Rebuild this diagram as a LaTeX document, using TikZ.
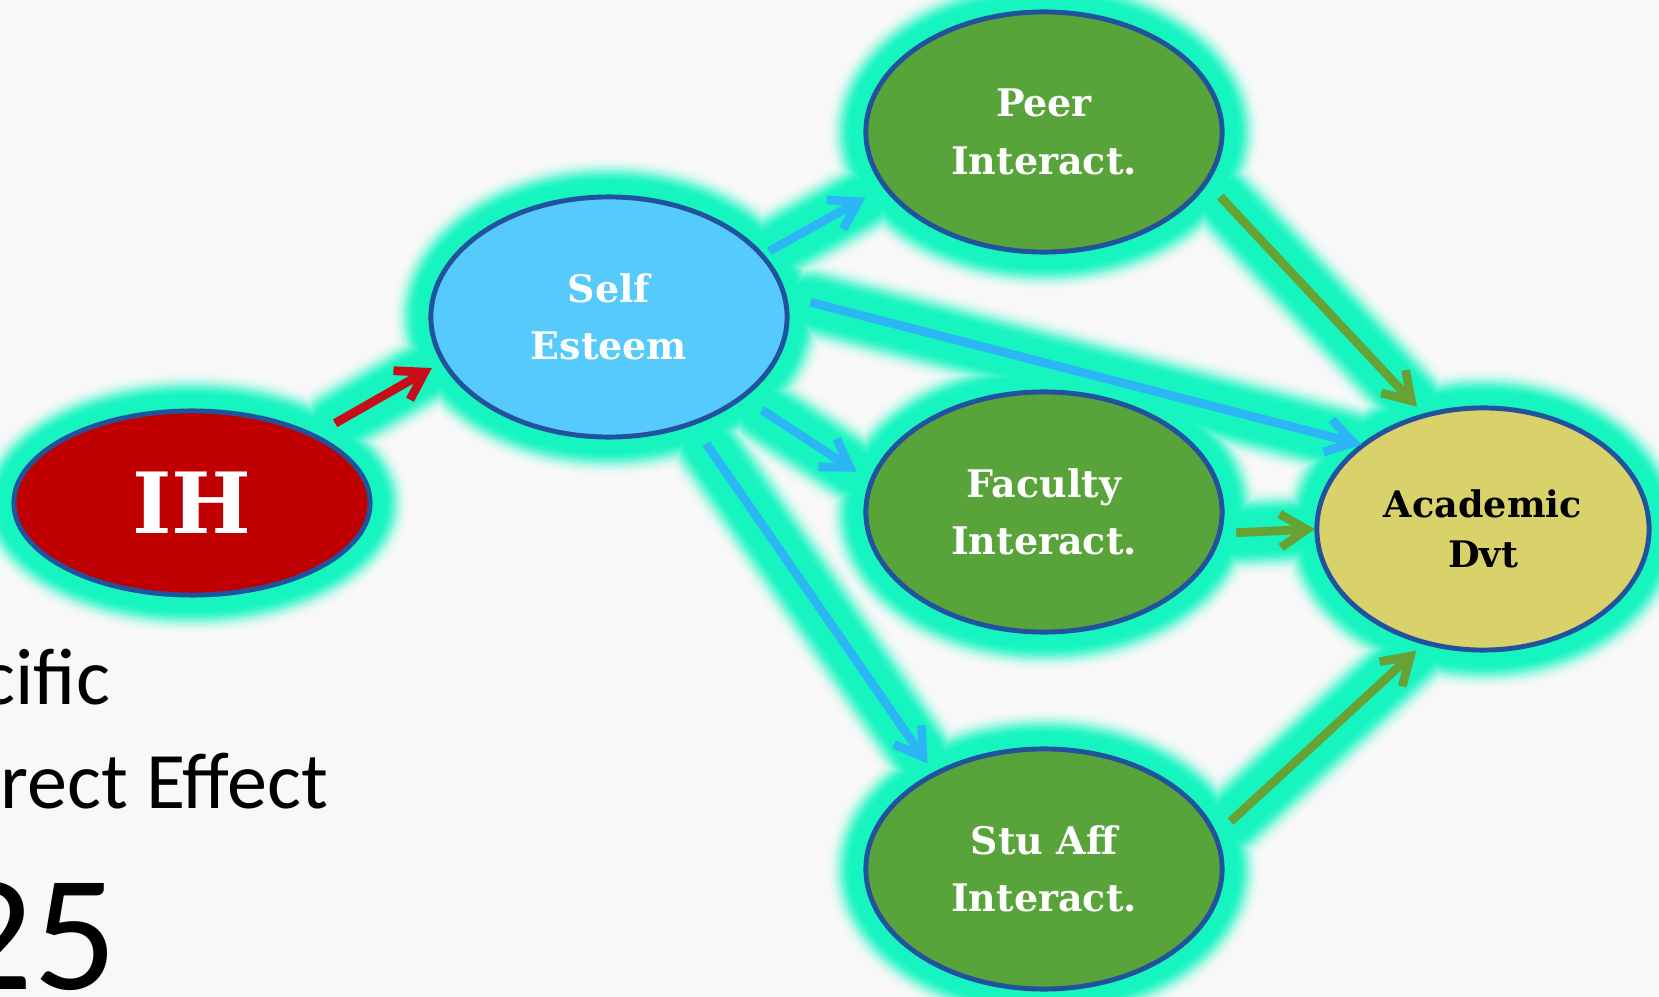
\documentclass[tikz,border=0pt]{standalone}
\usepackage{fontspec}
\newfontfamily\labelfont{Carlito}
\newfontfamily\bubblefont{DejaVu Serif}
\usetikzlibrary{arrows.meta,shapes.geometric}

\pgfdeclarelayer{glow}
\pgfsetlayers{glow,main}

\definecolor{bg}{RGB}{248,248,248}
\definecolor{glowc}{RGB}{22,245,192}
\definecolor{rim}{RGB}{34,82,158}
\definecolor{ihred}{RGB}{192,0,0}
\definecolor{selfblue}{RGB}{86,202,250}
\definecolor{leafgreen}{RGB}{88,164,58}
\definecolor{outkhaki}{RGB}{217,210,106}
\definecolor{linkred}{RGB}{200,12,24}
\definecolor{linkblue}{RGB}{44,182,246}
\definecolor{linkgreen}{RGB}{102,162,52}

\tikzset{
  bubble/.style={ellipse, draw=rim, line width=1.4pt, inner sep=0pt, outer sep=0pt,
    align=center, text=white, minimum width=3.56cm, minimum height=2.4cm,
    font=\bubblefont\bfseries\fontsize{10.8}{16.4}\selectfont},
  link/.style={line width=2.5pt, -{Straight Barb[length=7.5pt,width=9.5pt]}},
  redlink/.style={link, draw=linkred},
  bluelink/.style={link, draw=linkblue},
  greenlink/.style={link, draw=linkgreen},
  sidetext/.style={anchor=base east, inner sep=0pt, text=black}
}

% ellipse halos around every node (#1 = extra radius, #2 = colour)
\newcommand\haloshapes[2]{%
  \fill[#2] (ih.center)   ellipse [x radius=178+#1, y radius=92+#1];
  \fill[#2] (self.center) ellipse [x radius=178+#1, y radius=120+#1];
  \fill[#2] (peer.center) ellipse [x radius=178+#1, y radius=120+#1];
  \fill[#2] (fac.center)  ellipse [x radius=178+#1, y radius=120+#1];
  \fill[#2] (stu.center)  ellipse [x radius=178+#1, y radius=120+#1];
  \fill[#2] (acad.center) ellipse [x radius=166+#1, y radius=121+#1];
}

% all connectors; #1 is appended to each style
\newcommand\linkset[1]{%
  \draw[redlink,#1,shorten <=2.5mm,shorten >=1.35mm] (ih.29) -- (self.195);
  \draw[bluelink,#1,shorten <=0.85mm,shorten >=2.3mm] (self.22) -- (peer.199);
  \draw[bluelink,#1,shorten <=2.7mm,shorten >=0.2mm] (self.7) -- (acad.145);
  \draw[bluelink,#1,shorten <=2.4mm,shorten >=1.8mm] (self.329) -- (fac.170);
  \draw[bluelink,#1,shorten <=2.5mm,shorten >=1.3mm] (self.308) -- (stu.139);
  \draw[greenlink,#1,shorten <=2.05mm,shorten >=1.2mm] (peer.343) -- (acad.117);
  \draw[greenlink,#1,shorten <=1.7mm,shorten >=0.2mm] (fac.353) -- (acad.180);
  \draw[greenlink,#1,shorten <=2.1mm,shorten >=1.2mm] (stu.11) -- (acad.243);
}

\begin{document}
\begin{tikzpicture}[x=0.01cm,y=0.01cm]
  \useasboundingbox (0,0) rectangle (1659,-997);

  % nodes
  \node[bubble, fill=ihred, minimum height=1.84cm,
        font=\bubblefont\bfseries\fontsize{24}{30}\selectfont] (ih) at (192,-503) {IH};
  \node[bubble, fill=selfblue]  (self) at (609,-317)  {Self\\Esteem};
  \node[bubble, fill=leafgreen] (peer) at (1044,-132) {Peer\\Interact.};
  \node[bubble, fill=leafgreen] (fac)  at (1044,-512) {Faculty\\Interact.};
  \node[bubble, fill=leafgreen] (stu)  at (1044,-869) {Stu Aff\\Interact.};
  \node[bubble, fill=outkhaki, text=black, minimum width=3.32cm, minimum height=2.42cm,
        font=\bubblefont\bfseries\fontsize{10.4}{14.2}\selectfont] (acad) at (1483,-529) {Academic\\Dvt};

  % connectors
  \linkset{}

  % background and soft aqua halo behind everything, outer rings first
  \begin{pgfonlayer}{glow}
    \fill[bg] (0,0) rectangle (1659,-997);
    \foreach \e/\a/\p in {38/42/3,36/40/7,34/38/13,32/36/21,30/34/31,28/32/43,
                          26/30/56,24/28/69,22/26/81,20/24/90,18/22/96,16/20/100}{
      \haloshapes{\e}{glowc!\p!bg}
      \linkset{-, draw=glowc!\p!bg, line width={2*\a*0.2845pt}, line cap=round}
    }
  \end{pgfonlayer}

  % text running off the left edge
  \begin{scope}
    \clip (0,0) rectangle (1659,-997);
    \node[sidetext, font=\labelfont\fontsize{22.8}{27}\selectfont] (t1) at (111,-705) {cific};
    \node[sidetext, font=\labelfont\fontsize{22.8}{27}\selectfont] (t2) at (329,-808) {rect Effect};
    \node[sidetext, font=\labelfont\fontsize{47}{56}\selectfont] (t3) at (118,-989) {25};
  \end{scope}
\end{tikzpicture}
\end{document}
